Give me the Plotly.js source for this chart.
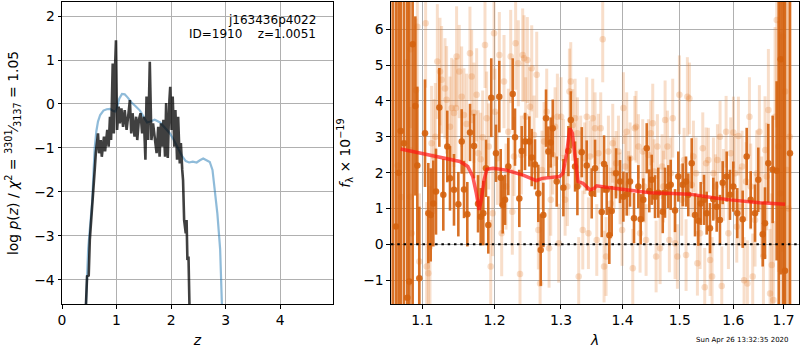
<!DOCTYPE html>
<html><head><meta charset="utf-8">
<script src="https://cdn.plot.ly/plotly-3.0.1.min.js"></script>
<style>html,body{margin:0;padding:0;background:#fff}</style>
</head><body><div id="chart" style="width:800px;height:350px"></div>
<script>
// ---- Left panel: log p(z) ----
const zFit = [0.43, 0.44, 0.46, 0.49, 0.51, 0.54, 0.57, 0.60, 0.62, 0.66, 0.68, 0.71, 0.73, 0.77, 0.79, 0.83, 0.855, 0.88, 0.90, 0.93, 0.95, 0.965, 0.99, 1.01, 1.04, 1.06, 1.09, 1.12, 1.15, 1.185, 1.22, 1.245, 1.27, 1.295, 1.33, 1.36, 1.38, 1.41, 1.44, 1.47, 1.50, 1.53, 1.55, 1.58, 1.61, 1.64, 1.67, 1.70, 1.735, 1.765, 1.79, 1.815, 1.84, 1.86, 1.89, 1.91, 1.94, 1.97, 1.985, 2.01, 2.03, 2.06, 2.08, 2.11, 2.13, 2.16, 2.18, 2.205, 2.22, 2.24, 2.27, 2.285, 2.30, 2.32, 2.33, 2.35, 2.36];
const logpFit = [-6, -4.55, -3.92, -3.9, -3.09, -2.48, -1.85, -1.5, -1.12, -0.67, -1.12, -0.82, -1.2, -0.74, -1.08, -0.59, -0.97, -0.29, -0.82, 0.92, -0.67, 0.55, 1.45, -0.59, -0.06, -0.44, -0.1, -0.52, -0.14, -0.59, -0.21, 0.09, -0.67, -0.21, -0.74, -0.29, -0.82, -0.36, -0.21, -0.67, -0.29, -1.27, 0.17, -0.82, 0.96, -0.82, -0.44, -0.82, -1.12, -0.52, -1.2, -0.44, -0.97, -0.36, -1.2, 0.02, -1.23, 0.09, 0.39, -0.59, 0.17, -0.97, -0.14, -1.27, -0.29, -1.35, -0.89, -1.5, -1.73, -2.64, -2.94, -2.64, -3.55, -3.47, -4.08, -4.55, -6];
const zPrior = [0.42, 0.44, 0.48, 0.52, 0.555, 0.58, 0.60, 0.63, 0.66, 0.70, 0.76, 0.82, 0.88, 0.94, 0.98, 1.01, 1.05, 1.10, 1.15, 1.21, 1.27, 1.35, 1.43, 1.50, 1.56, 1.62, 1.70, 1.80, 1.90, 1.98, 2.05, 2.12, 2.20, 2.27, 2.33, 2.40, 2.47, 2.53, 2.59, 2.65, 2.71, 2.76, 2.80, 2.85, 2.90, 2.94, 2.97];
const logpPrior = [-6, -4.55, -3.3, -2.7, -2.2, -1.5, -1.0, -0.62, -0.4, -0.25, -0.15, -0.12, -0.11, -0.16, -0.17, -0.08, 0.12, 0.23, 0.22, 0.14, 0.04, -0.05, -0.15, -0.3, -0.42, -0.4, -0.36, -0.42, -0.55, -0.67, -0.82, -0.98, -1.18, -1.3, -1.33, -1.31, -1.33, -1.28, -1.24, -1.28, -1.32, -1.5, -1.9, -2.5, -3.3, -4.55, -6];
const zTicks = [0, 1, 2, 3, 4];
const logpTicks = [-4, -3, -2, -1, 0, 1, 2];
const logpTickText = ['\u22124', '\u22123', '\u22122', '\u22121', '0', '1', '2'];

// ---- Right panel: spectrum ----
const lamBin = [1.0615, 1.0655, 1.0690, 1.0717, 1.0760, 1.0803, 1.0829, 1.0873, 1.0908, 1.0934,
  1.0960, 1.1036, 1.1080, 1.1112, 1.1147, 1.1183, 1.1228, 1.1282, 1.1336, 1.1373,
  1.1428, 1.1488, 1.1535, 1.1567, 1.1613, 1.1651, 1.1707, 1.1764, 1.1802, 1.1839,
  1.1877, 1.1910, 1.1953, 1.2021, 1.2069, 1.2090, 1.2119, 1.2153, 1.2201, 1.2266,
  1.2300, 1.2364, 1.2400, 1.2449, 1.2514, 1.2550, 1.2600, 1.2650, 1.2687, 1.2727,
  1.2768, 1.2804, 1.2841, 1.2872, 1.2934, 1.3038, 1.3117, 1.3155, 1.3223, 1.3260,
  1.3330, 1.3410, 1.3491, 1.3545, 1.3655, 1.3693, 1.3737, 1.3780, 1.3820, 1.3892,
  1.3959, 1.4015, 1.4072, 1.4128, 1.4196, 1.4270, 1.4311, 1.4356, 1.4415, 1.4460,
  1.4502, 1.4560, 1.4618, 1.4696, 1.4736, 1.4795, 1.4838, 1.4915, 1.4974, 1.5054,
  1.5114, 1.5156, 1.5218, 1.5279, 1.5340, 1.5384, 1.5445, 1.5495, 1.5557, 1.5619,
  1.5683, 1.5745, 1.5797, 1.5873, 1.5936, 1.6000, 1.6077, 1.6182, 1.6260, 1.6339,
  1.6424, 1.6489, 1.6577, 1.6623, 1.6689, 1.6777, 1.6858, 1.6900, 1.6940, 1.6990,
  1.7028, 1.7131];
const fluxBin = [7.5, 0.5, 2.0, 3.16, 2.82, -1.49, -1.04, 5.58, 3.86, 2.20,
  -0.95, 3.10, 0.87, 0.82, 1.14, 1.47, 3.82, 1.38, 2.73, 1.84,
  1.52, 1.12, 2.87, 1.53, 0.84, 3.12, 2.74, 1.13, 0.77, 0.87,
  2.12, 0.54, 4.09, 2.54, 4.12, 1.86, 1.10, 1.24, 2.17, 4.19,
  2.99, 1.28, 2.60, 2.87, 2.87, 2.42, 2.23, 1.42, -0.16, 0.82,
  3.52, 2.59, 2.84, 3.24, 1.75, 1.58, 2.60, 3.47, 2.17, 1.61,
  2.57, 2.20, 1.42, 2.12, 0.90, 2.24, 1.52, 0.25, 0.93, 1.98,
  1.75, 1.33, 1.40, 1.75, 0.73, 1.61, 0.70, 1.24, 2.68, 1.49,
  1.80, 1.33, 1.44, 0.91, 1.44, 1.61, 1.66, 0.94, 1.89, 1.66,
  1.75, 1.38, 2.26, 0.82, 0.66, 1.14, 1.24, 0.87, 0.45, 1.26,
  1.05, 0.68, 1.72, 1.89, 1.38, 1.61, 0.87, 0.70, 2.45, 1.24,
  0.87, 1.80, 0.28, 0.59, 2.26, 2.09, 2.05, 8.0, 5.16, 9.0,
  -0.74, 2.54];
const errBin = [12, 12, 12, 10, 10, 9, 9, 8, 2.5, 2.2,
  2.0, 1.5, 1.4, 1.3, 1.2, 1.2, 1.1, 1.0, 1.0, 0.9,
  1.0, 0.9, 0.9, 0.8, 0.9, 0.8, 0.9, 0.8, 0.8, 0.9,
  0.8, 0.8, 1.1, 0.8, 1.0, 0.8, 0.8, 0.7, 0.8, 1.0,
  0.8, 0.8, 0.7, 0.8, 0.7, 0.8, 0.7, 0.8, 1.0, 0.9,
  0.8, 0.7, 0.7, 0.8, 0.7, 0.8, 0.7, 0.8, 0.7, 0.8,
  0.7, 0.7, 0.7, 0.8, 0.7, 0.8, 0.7, 0.8, 0.7, 0.7,
  0.6, 0.7, 0.6, 0.7, 0.7, 0.6, 0.7, 0.6, 0.7, 0.6,
  0.7, 0.6, 0.7, 0.6, 0.7, 0.6, 0.7, 0.6, 0.7, 0.6,
  0.7, 0.6, 0.7, 0.6, 0.7, 0.6, 0.7, 0.6, 0.7, 0.6,
  0.7, 0.7, 0.6, 0.7, 0.7, 0.7, 0.7, 0.8, 0.8, 0.8,
  0.8, 0.9, 0.9, 1.0, 1.1, 1.5, 2.5, 12, 6, 12,
  8, 9];

const lamFull = [1.0680, 1.0725, 1.0794, 1.0838, 1.0846, 1.0859, 1.0916, 1.0934, 1.0960, 1.1044,
  1.1058, 1.1080, 1.1102, 1.1124, 1.1156, 1.1174, 1.1201, 1.1237, 1.1259, 1.1305,
  1.1327, 1.1373, 1.1396, 1.1428, 1.1455, 1.1464, 1.1501, 1.1534, 1.1566, 1.1603,
  1.1650, 1.1674, 1.1706, 1.1744, 1.1767, 1.1801, 1.1830, 1.1863, 1.1887, 1.1916,
  1.1945, 1.1974, 1.1993,
  1.2007, 1.2041, 1.2070, 1.2104, 1.2138, 1.2167, 1.2201, 1.2236, 1.2260, 1.2285,
  1.2309, 1.2349, 1.2374, 1.2394, 1.2414, 1.2434, 1.2459, 1.2484, 1.2524, 1.2550,
  1.2585, 1.2626, 1.2651, 1.2677, 1.2707, 1.2738, 1.2779, 1.2815, 1.2841, 1.2872,
  1.2908, 1.2944, 1.2965, 1.3002,
  1.3038, 1.3065, 1.3101, 1.3133, 1.3154, 1.3186, 1.3223, 1.3260, 1.3281, 1.3313,
  1.3346, 1.3378, 1.3410, 1.3437, 1.3464, 1.3507, 1.3545, 1.3573, 1.3600, 1.3638,
  1.3671, 1.3693, 1.3726, 1.3765, 1.3804, 1.3837, 1.3859, 1.3893, 1.3932, 1.3960,
  1.3994,
  1.4016, 1.4044, 1.4072, 1.4101, 1.4129, 1.4175, 1.4209, 1.4232, 1.4272, 1.4300,
  1.4346, 1.4369, 1.4404, 1.4444, 1.4485, 1.4520, 1.4544, 1.4579, 1.4602, 1.4649,
  1.4684, 1.4708, 1.4738, 1.4779, 1.4814, 1.4838, 1.4874, 1.4916, 1.4958, 1.4994,
  1.5037, 1.5079, 1.5115, 1.5139, 1.5176, 1.5218, 1.5249, 1.5298, 1.5323, 1.5372,
  1.5422, 1.5459, 1.5484, 1.5527, 1.5559, 1.5596, 1.5621, 1.5659, 1.5697, 1.5747,
  1.5779, 1.5811, 1.5862, 1.5906, 1.5951,
  1.6002, 1.6034, 1.6067, 1.6099, 1.6131, 1.6170, 1.6209, 1.6248, 1.6274, 1.6314,
  1.6340, 1.6379, 1.6425, 1.6458, 1.6511, 1.6557, 1.6591, 1.6624, 1.6658, 1.6691,
  1.6725, 1.6759, 1.6792, 1.6826, 1.6860, 1.6894, 1.6928, 1.6982, 1.7030, 1.7064,
  1.7100, 1.7125];
const fluxFull = [2.2, 1.32, 5.07, 1.33, 5.44, 0.31, 4.3, 6.07, -0.48, 6.17,
  -0.62, -0.81, -0.07, 2.82, 2.45, 3.0, 5.1, 4.82, 4.59, 4.35,
  4.03, 3.28, 3.8, 3.66, 3.8, 5.24, 4.82, 4.12, 3.61, 3.36,
  5.33, 4.68, 3.67, 4.17, 2.54, 2.37, 2.99, 5.56, 3.52, 2.73,
  -0.62, 0.87, 5.89,
  3.70, 2.4, 5.28, 0.31, 4.54, 1.61, 3.14, 5.24, 0.91, 2.45,
  5.61, 5.05, -0.83, 2.49, 5.28, 5.19, 3.56, 5.14, 3.84, 4.91,
  3.05, 4.73, 0.4, -1.09, 2.07, 2.87, 3.70, -0.11, 1.24, 2.49,
  3.28, 3.56, 0.03, 3.56,
  2.4, 1.24, 1.61, 4.26, 4.54, 3.33, 3.52, 3.10, -0.9, 2.59,
  0.40, 2.4, 3.56, 0.31, 2.45, 3.52, 3.24, 0.12, 2.54, 3.24,
  5.72, -0.62, -0.34, 2.59, 1.14, 2.82, 1.98, 2.26, 2.59, 1.56,
  0.40,
  3.8, 2.17, 3.14, 1.70, 2.4, -0.67, 3.24, 3.28, 2.73, 0.31,
  2.59, 1.61, 0.12, 2.49, 3.10, 3.38, 2.03, -0.34, 2.73, -0.11,
  2.17, 1.61, 3.47, 2.73, 0.12, 1.98, 3.52, 0.03, -0.34, 4.17,
  1.24, 2.35, -0.3, 4.12, 4.07, 1.66, 2.45, 1.98, -0.53, 0.31,
  2.68, -1.2, 2.26, 2.35, -0.44, -0.90, 1.98, 1.61, 2.35, 3.0,
  -1.16, 1.66, 3.14, 0.31, 2.54,
  3.12, 1.98, 0.49, 3.02, 1.05, 2.17, -1.0, 1.75, -1.09, 3.56,
  1.61, -0.9, 0.68, 1.98, 3.14, 1.05, -0.34, 2.63, 1.89, 3.75,
  -1.37, -0.58, -1.55, 3.56, 6.26, 2.73, 1.42, 5.79, 4.26, 2.07,
  1.0, 3.0];
const errFull = [9, 9, 3.0, 2.5, 2.2, 2.4, 2.0, 2.1, 1.9, 1.8,
  1.8, 1.7, 1.7, 1.6, 1.6, 1.5, 1.6, 1.5, 1.5, 1.4,
  1.5, 1.4, 1.4, 1.5, 1.4, 1.4, 1.3, 1.4, 1.3, 1.4,
  1.3, 1.3, 1.4, 1.3, 1.2, 1.3, 1.3, 1.2, 1.3, 1.2,
  1.3, 1.2, 1.3,
  1.2, 1.3, 1.2, 1.2, 1.3, 1.2, 1.2, 1.3, 1.2, 1.1,
  1.3, 1.2, 1.2, 1.1, 1.3, 1.2, 1.1, 1.2, 1.1, 1.2,
  1.1, 1.2, 1.1, 1.2, 1.1, 1.1, 1.2, 1.1, 1.0, 1.1,
  1.1, 1.2, 1.1, 1.1,
  1.1, 1.0, 1.1, 1.2, 1.1, 1.0, 1.1, 1.0, 1.1, 1.0,
  1.1, 1.0, 1.1, 1.0, 1.0, 1.1, 1.0, 1.0, 1.1, 1.0,
  1.2, 1.0, 1.1, 1.0, 1.0, 1.1, 1.0, 0.9, 1.0, 1.0,
  1.0,
  1.0, 0.9, 1.1, 0.9, 1.0, 1.1, 0.9, 1.0, 0.9, 1.1,
  0.9, 1.0, 1.0, 1.0, 0.9, 1.1, 0.9, 1.0, 0.9, 1.0,
  0.9, 1.0, 1.1, 1.0, 0.9, 1.0, 1.1, 1.0, 0.9, 1.1,
  1.0, 0.9, 1.0, 1.1, 1.0, 0.9, 1.0, 1.0, 0.9, 1.0,
  1.0, 1.1, 1.0, 0.9, 1.0, 1.1, 1.0, 0.9, 1.0, 1.0,
  1.1, 1.0, 1.0, 1.0, 1.0,
  1.0, 1.1, 1.0, 1.1, 1.1, 1.0, 1.2, 1.1, 1.2, 1.1,
  1.2, 1.2, 1.3, 1.2, 1.3, 1.4, 1.4, 1.5, 1.5, 1.7,
  1.8, 2.0, 2.2, 2.5, 3.0, 3.5, 4.5, 6, 8, 9,
  10, 10];

const lamModel = [1.0717, 1.1013, 1.1510, 1.1620, 1.1690, 1.1740, 1.1780, 1.1810, 1.1850, 1.1890, 1.1980, 1.2170, 1.2420, 1.2620, 1.2710, 1.2980, 1.3030, 1.3090, 1.3140, 1.3180, 1.3220, 1.3270, 1.3350, 1.3460, 1.3530, 1.3570, 1.3730, 1.4120, 1.4470, 1.4880, 1.5180, 1.5620, 1.5940, 1.6520, 1.7030];
const fluxModel = [2.66, 2.52, 2.31, 2.17, 1.89, 1.42, 0.96, 1.24, 1.80, 2.09, 2.12, 2.07, 1.93, 1.78, 1.84, 1.89, 1.98, 2.54, 3.24, 3.10, 2.45, 1.75, 1.70, 1.52, 1.56, 1.63, 1.59, 1.50, 1.44, 1.42, 1.40, 1.30, 1.24, 1.16, 1.12];

const lamTicks = [1.1, 1.2, 1.3, 1.4, 1.5, 1.6, 1.7];
const lamTickText = ['1.1', '1.2', '1.3', '1.4', '1.5', '1.6', '1.7'];
const fluxTicks = [-1, 0, 1, 2, 3, 4, 5, 6];
const fluxTickText = ['\u22121', '0', '1', '2', '3', '4', '5', '6'];

const FONT = 'DejaVu Sans, Verdana, sans-serif';
const FS = 13.9;
const FS_NOTE = 12;
const darkOrange = 'rgba(212,98,14,0.9)';
const lightOrange = 'rgba(228,122,45,0.25)';

const traces = [
  {x: zPrior, y: logpPrior, xaxis: 'x', yaxis: 'y', mode: 'lines',
   line: {color: 'rgba(31,119,180,0.5)', width: 2.2}, hoverinfo: 'skip'},
  {x: zFit, y: logpFit, xaxis: 'x', yaxis: 'y', mode: 'lines',
   line: {color: 'rgba(0,0,0,0.75)', width: 2.6}, hoverinfo: 'skip'},
  {x: lamFull, y: fluxFull, xaxis: 'x2', yaxis: 'y2', mode: 'markers',
   marker: {color: lightOrange, size: 6.5},
   error_y: {type: 'data', array: errFull, color: lightOrange, thickness: 3, width: 0},
   hoverinfo: 'skip'},
  {x: lamBin, y: fluxBin, xaxis: 'x2', yaxis: 'y2', mode: 'markers',
   marker: {color: darkOrange, size: 6.5},
   error_y: {type: 'data', array: errBin, color: darkOrange, thickness: 2.6, width: 0},
   hoverinfo: 'skip'},
  {x: lamModel, y: fluxModel, xaxis: 'x2', yaxis: 'y2', mode: 'lines',
   line: {color: 'rgba(255,20,20,0.7)', width: 3.5}, hoverinfo: 'skip'}
];

const axBase = {
  showline: true, mirror: true, linecolor: 'black', linewidth: 1,
  ticks: 'outside', ticklen: 3.5, tickwidth: 1, tickcolor: 'black',
  showgrid: true, gridcolor: '#b0b0b0', gridwidth: 1, zeroline: false,
  tickfont: {family: FONT, size: FS, color: 'black'}
};

const layout = {
  width: 800, height: 350,
  margin: {l: 62, r: 1, t: 2, b: 46},
  paper_bgcolor: 'white', plot_bgcolor: 'white',
  showlegend: false,
  font: {family: FONT, color: 'black'},
  xaxis: Object.assign({}, axBase, {domain: [0, 0.3677], anchor: 'y', range: [0, 4.97],
    tickmode: 'array', tickvals: zTicks,
    title: {text: '<i>z</i>', font: {family: FONT, size: FS}, standoff: 8}}),
  yaxis: Object.assign({}, axBase, {domain: [0, 1], anchor: 'x', range: [-4.55, 2.32],
    tickmode: 'array', tickvals: logpTicks, ticktext: logpTickText,
    title: {text: 'log <i>p</i>(<i>z</i>) / <i>\u03c7</i><sup>2</sup> = <sup>3301</sup>\u2044<sub>3137</sub> = 1.05',
      font: {family: FONT, size: FS}, standoff: 12}}),
  xaxis2: Object.assign({}, axBase, {domain: [0.4464, 1], anchor: 'y2', type: 'log',
    range: [0.02501, 0.2385], tickmode: 'array', tickvals: lamTicks, ticktext: lamTickText,
    title: {text: '<i>\u03bb</i>', font: {family: FONT, size: FS}, standoff: 8}}),
  yaxis2: Object.assign({}, axBase, {domain: [0, 1], anchor: 'x2', range: [-1.665, 6.76],
    tickmode: 'array', tickvals: fluxTicks, ticktext: fluxTickText,
    title: {text: '<i>f</i><sub>\u03bb</sub> \u00d7 10<sup>\u221219</sup>',
      font: {family: FONT, size: FS}, standoff: 9}}),
  shapes: [
    {type: 'line', xref: 'x2 domain', yref: 'y2', x0: 0, x1: 1, y0: 0, y1: 0,
     line: {color: 'black', width: 2, dash: '2.5px,3.8px'}, layer: 'above'}
  ],
  annotations: [
    {xref: 'x domain', yref: 'y domain', x: 0.9446, y: 0.940, xanchor: 'right', yanchor: 'middle',
     text: 'j163436p4022', showarrow: false, font: {family: FONT, size: FS_NOTE, color: 'black'}},
    {xref: 'x domain', yref: 'y domain', x: 0.9446, y: 0.894, xanchor: 'right', yanchor: 'middle',
     text: 'ID=1910\u00a0\u00a0\u00a0\u00a0z=1.0051', showarrow: false, font: {family: FONT, size: FS_NOTE, color: 'black'}},
    {xref: 'paper', yref: 'paper', x: 0.9227, y: -0.119, xanchor: 'center', yanchor: 'middle',
     text: 'Sun Apr 26 13:32:35 2020', showarrow: false, font: {family: FONT, size: 7, color: 'black'}}
  ]
};

Plotly.newPlot('chart', traces, layout, {displayModeBar: false, staticPlot: true});
</script></body></html>
